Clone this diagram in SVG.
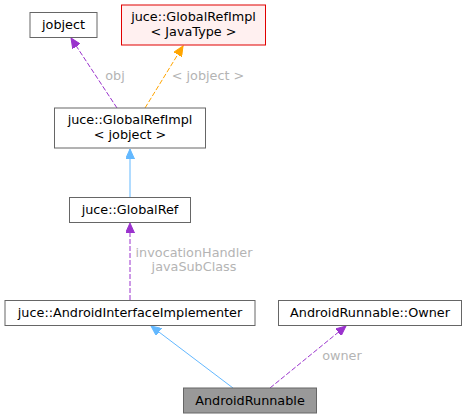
<svg xmlns="http://www.w3.org/2000/svg" width="467" height="419" viewBox="0 0 467 419">
<style>
text{font-family:"DejaVu Sans","Liberation Sans",sans-serif;font-size:12.8px;text-anchor:middle}
.n{fill:#fff;stroke:#666;stroke-width:1}
.t{fill:#000}
.l{fill:#b4b4b4}
.e{fill:none;stroke-width:1}
.blue{stroke:#63b8ff}
.purple{stroke:#9a32cd;stroke-dasharray:5,2}
.orange{stroke:#ffa500;stroke-dasharray:5,2}
</style>
<defs>
<marker id="ab" markerUnits="userSpaceOnUse" markerWidth="11" markerHeight="9" refX="10" refY="4.5" orient="auto"><path d="M0,0 L10,4.5 L0,9 z" fill="#63b8ff" stroke="#63b8ff"/></marker>
<marker id="ap" markerUnits="userSpaceOnUse" markerWidth="11" markerHeight="9" refX="10" refY="4.5" orient="auto"><path d="M0,0 L10,4.5 L0,9 z" fill="#9a32cd" stroke="#9a32cd"/></marker>
<marker id="ao" markerUnits="userSpaceOnUse" markerWidth="11" markerHeight="9" refX="10" refY="4.5" orient="auto"><path d="M0,0 L10,4.5 L0,9 z" fill="#ffa500" stroke="#ffa500"/></marker>
</defs>
<g id="connectors">
<line class="e purple" x1="117" y1="108" x2="71" y2="38" marker-end="url(#ap)"/>
<text class="l" x="115" y="80">obj</text>
<line class="e orange" x1="145" y1="108" x2="183" y2="46" marker-end="url(#ao)"/>
<text class="l" x="208" y="80">&lt; jobject &gt;</text>
<line class="e blue" x1="130" y1="197" x2="130" y2="149" marker-end="url(#ab)"/>
<line class="e purple" x1="130" y1="300" x2="130" y2="223" marker-end="url(#ap)"/>
<text class="l" x="194" y="257">invocationHandler</text>
<text class="l" x="194" y="271">javaSubClass</text>
<line class="e blue" x1="233" y1="388" x2="151" y2="326" marker-end="url(#ab)"/>
<line class="e purple" x1="270" y1="388" x2="346" y2="326" marker-end="url(#ap)"/>
<text class="l" x="342" y="360">owner</text>
</g>
<g id="jobject"><rect class="n" x="30" y="12.5" width="67" height="25"/><text class="t" x="63.5" y="29">jobject</text></g>
<g id="GlobalRefImplJavaType"><rect x="121.5" y="5" width="144" height="40" fill="#fff0f0" stroke="#e00000"/><text class="t" x="193.5" y="21">juce::GlobalRefImpl</text><text class="t" x="193.5" y="36">&lt; JavaType &gt;</text></g>
<g id="GlobalRefImplJobject"><rect class="n" x="54.5" y="108" width="151" height="40"/><text class="t" x="130" y="124">juce::GlobalRefImpl</text><text class="t" x="130" y="139">&lt; jobject &gt;</text></g>
<g id="GlobalRef"><rect class="n" x="69.5" y="197.5" width="121" height="25"/><text class="t" x="130" y="214">juce::GlobalRef</text></g>
<g id="AndroidInterfaceImplementer"><rect class="n" x="5" y="300.5" width="250" height="25"/><text class="t" x="130" y="317">juce::AndroidInterfaceImplementer</text></g>
<g id="Owner"><rect class="n" x="278.5" y="300.5" width="183" height="25"/><text class="t" x="370" y="317">AndroidRunnable::Owner</text></g>
<g id="AndroidRunnable"><rect x="183.5" y="388" width="133" height="25" fill="#999" stroke="#666"/><text class="t" x="250" y="405">AndroidRunnable</text></g>
</svg>
